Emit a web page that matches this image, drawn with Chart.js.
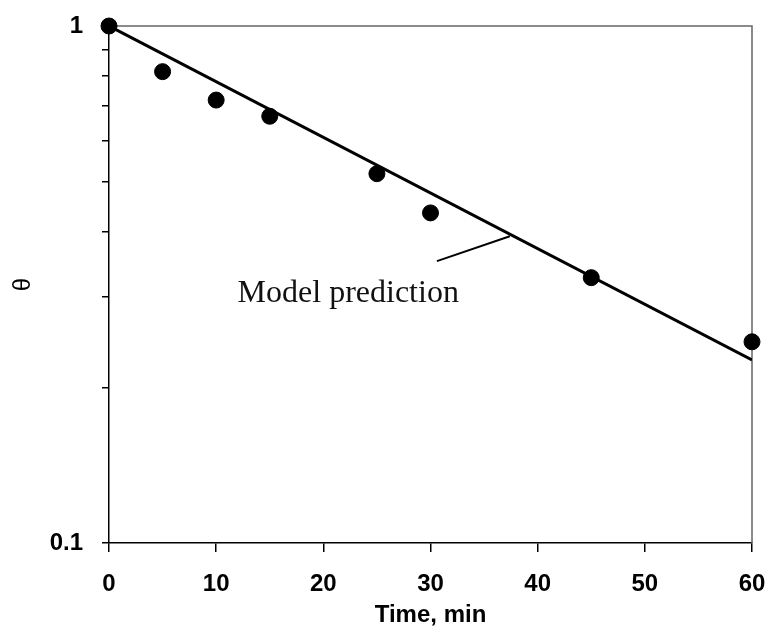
<!DOCTYPE html>
<html>
<head>
<meta charset="utf-8">
<script src="https://cdn.jsdelivr.net/npm/chart.js@4/dist/chart.umd.min.js"></script>
<style>
  html, body { margin: 0; padding: 0; background: #fff; }
  #wrap { width: 772px; height: 643px; }
</style>
</head>
<body>
<div id="wrap"><canvas id="decayChart" width="772" height="643"></canvas></div>
<script>
// measured points
var times = [0, 5, 10, 15, 25, 30, 45, 60];
var theta = [1.0, 0.816, 0.719, 0.669, 0.518, 0.435, 0.326, 0.245];

// model line (straight on log axis)
var modelTimes = [0, 60];
var modelTheta = [1.0, 0.226];

// leader line from label to model line
var leaderTimes = [30.6, 37.4];
var leaderTheta = [0.351, 0.392];

// label anchor
var labelText = 'Model prediction';
var labelTime = 12.0;
var labelTheta = 0.293;

// axis ticks
var xTicks = [0, 10, 20, 30, 40, 50, 60];
var yTicks = [0.1, 0.2, 0.3, 0.4, 0.5, 0.6, 0.7, 0.8, 0.9, 1];
var yLabelled = [0.1, 1];

function pts(xs, ys) {
  var out = [];
  for (var i = 0; i < xs.length; i++) out.push({x: xs[i], y: ys[i]});
  return out;
}

// box + annotation text
var framePlugin = {
  id: 'frame',
  beforeDatasetsDraw: function(chart) {
    var ctx = chart.ctx, a = chart.chartArea;
    ctx.save();
    ctx.strokeStyle = '#666';
    ctx.lineWidth = 1.5;
    ctx.beginPath();
    ctx.moveTo(a.left, a.top);
    ctx.lineTo(a.right, a.top);
    ctx.lineTo(a.right, a.bottom);
    ctx.stroke();
    ctx.restore();
  },
  afterDatasetsDraw: function(chart) {
    var ctx = chart.ctx;
    var x = chart.scales.x.getPixelForValue(labelTime);
    var y = chart.scales.y.getPixelForValue(labelTheta);
    ctx.save();
    ctx.fillStyle = '#111';
    ctx.font = '32px "Liberation Serif", "Times New Roman", serif';
    ctx.textAlign = 'left';
    ctx.textBaseline = 'alphabetic';
    ctx.fillText(labelText, x, y);
    ctx.restore();
  }
};

var tickFont = {family: '"Liberation Sans", Arial, sans-serif', size: 24, weight: 'bold'};

new Chart(document.getElementById('decayChart'), {
  type: 'scatter',
  data: {
    datasets: [{
      label: 'Data',
      data: pts(times, theta),
      backgroundColor: '#000',
      borderColor: '#000',
      pointRadius: 8,
      pointHoverRadius: 8,
      clip: false,
      order: 0
    }, {
      label: 'Model prediction',
      data: pts(modelTimes, modelTheta),
      showLine: true,
      borderColor: '#000',
      borderWidth: 3,
      pointRadius: 0,
      fill: false,
      order: 1
    }, {
      label: 'leader',
      data: pts(leaderTimes, leaderTheta),
      showLine: true,
      borderColor: '#000',
      borderWidth: 2,
      pointRadius: 0,
      fill: false,
      order: 2
    }]
  },
  options: {
    responsive: false,
    animation: false,
    layout: { padding: {top: 26, right: 20, left: 0, bottom: 0} },
    plugins: {
      legend: { display: false },
      tooltip: { enabled: false }
    },
    scales: {
      x: {
        type: 'linear',
        min: 0,
        max: 60,
        afterBuildTicks: function(s) {
          s.ticks = xTicks.map(function(v) { return {value: v}; });
        },
        ticks: { color: '#000', font: tickFont, padding: 18 },
        grid: { drawOnChartArea: false, drawTicks: true, tickLength: 9, color: '#000', lineWidth: 1.5 },
        border: { display: true, color: '#000', width: 1.5 },
        title: {
          display: true,
          text: 'Time, min',
          color: '#000',
          font: {family: '"Liberation Sans", Arial, sans-serif', size: 24, weight: 'bold'},
          padding: {top: 0, bottom: 13}
        },
        afterFit: function(s) {
          s.height = 100;
          s.paddingLeft = 0;
          s.paddingRight = 0;
        }
      },
      y: {
        type: 'logarithmic',
        min: 0.1,
        max: 1,
        afterBuildTicks: function(s) {
          s.ticks = yTicks.map(function(v) { return {value: v}; });
        },
        ticks: {
          color: '#000',
          font: tickFont,
          padding: 19,
          autoSkip: false,
          callback: function(v) {
            for (var i = 0; i < yLabelled.length; i++) {
              if (Math.abs(v - yLabelled[i]) < 1e-9) return String(yLabelled[i]);
            }
            return '';
          }
        },
        grid: { drawOnChartArea: false, drawTicks: true, tickLength: 7, color: '#000', lineWidth: 1.5 },
        border: { display: true, color: '#000', width: 1.5 },
        title: {
          display: true,
          text: 'θ',
          color: '#000',
          font: {family: '"Liberation Sans", Arial, sans-serif', size: 24},
          padding: {top: 9, bottom: 0}
        },
        afterFit: function(s) {
          s.width = 109;
          s.paddingTop = 0;
          s.paddingBottom = 0;
        }
      }
    }
  },
  plugins: [framePlugin]
});
</script>
</body>
</html>
